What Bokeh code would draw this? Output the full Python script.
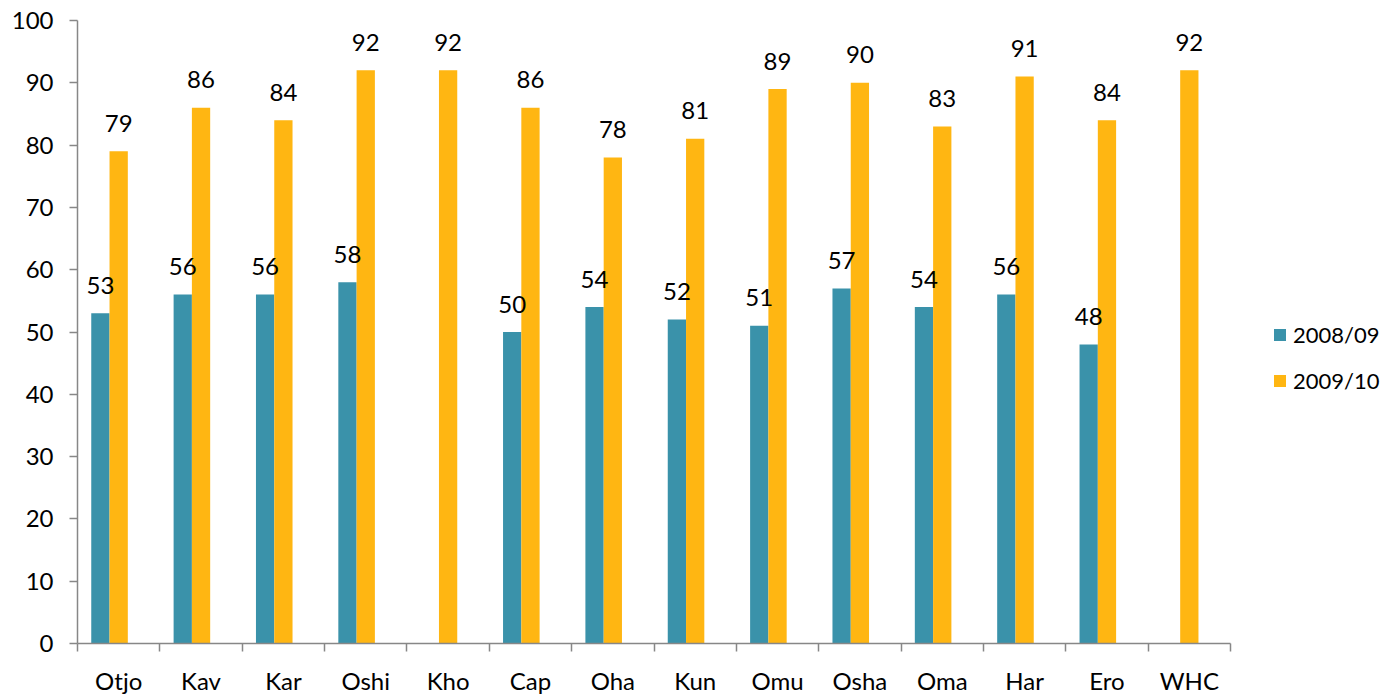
import numpy as np
from bokeh.plotting import figure
from bokeh.models import ColumnDataSource, FixedTicker, Legend, LegendItem, Range1d
from bokeh.core.properties import value
from bokeh.embed import file_html
from bokeh.resources import INLINE

categories = ["Otjo", "Kav", "Kar", "Oshi", "Kho", "Cap", "Oha", "Kun", "Omu",
              "Osha", "Oma", "Har", "Ero", "WHC"]
series_names = ["2008/09", "2009/10"]
values_0809 = [53, 56, 56, 58, None, 50, 54, 52, 51, 57, 54, 56, 48, None]
values_0910 = [79, 86, 84, 92, 92, 86, 78, 81, 89, 90, 83, 91, 84, 92]
y_ticks = [0, 10, 20, 30, 40, 50, 60, 70, 80, 90, 100]

TEAL = "#3A92AA"
ORANGE = "#FFB612"
FONT = "Lato"
FS = "24px"
BAR_W = 0.222

centers = np.arange(len(categories)) + 0.5

def make_source(vals, offset):
    xs, ys, labels = [], [], []
    for c, v in zip(centers, vals):
        if v is None:
            continue
        xs.append(c + offset)
        ys.append(v)
        labels.append(str(v))
    return ColumnDataSource(dict(x=xs, top=ys, label=labels))

src_a = make_source(values_0809, -BAR_W)
src_b = make_source(values_0910, 0.0)

p = figure(frame_width=1153, frame_height=623, min_border_left=77, min_border_top=20,
           min_border_right=155, min_border_bottom=50,
           x_range=Range1d(0, len(categories)), y_range=Range1d(0, 100),
           output_backend="svg", toolbar_location=None)
p.outline_line_color = None
p.grid.grid_line_color = None
p.background_fill_color = "white"
p.border_fill_color = "white"

r_a = p.vbar(x="x", top="top", width=BAR_W, bottom=0, source=src_a,
             fill_color=TEAL, line_color=None)
r_b = p.vbar(x="x", top="top", width=BAR_W, bottom=0, source=src_b,
             fill_color=ORANGE, line_color=None)

for src in (src_a, src_b):
    p.text(x="x", y="top", text="label", source=src, text_align="center",
           text_baseline="alphabetic", y_offset=-28, text_font=value(FONT),
           text_font_size=FS, text_color="black")

# axes
AX = "#878787"
xa = p.xaxis[0]
xa.ticker = FixedTicker(ticks=list(centers), minor_ticks=list(range(len(categories) + 1)))
xa.major_label_overrides = {float(c): cat for c, cat in zip(centers, categories)}
xa.major_tick_line_color = None
xa.major_tick_out = 0
xa.major_tick_in = 0
xa.minor_tick_line_color = AX
xa.minor_tick_line_width = 1.5
xa.minor_tick_out = 8
xa.minor_tick_in = 0
xa.axis_line_color = AX
xa.axis_line_width = 1.5
xa.major_label_standoff = 14
xa.major_label_text_font = FONT
xa.major_label_text_font_size = FS
xa.major_label_text_color = "black"

ya = p.yaxis[0]
ya.ticker = FixedTicker(ticks=y_ticks, minor_ticks=[])
ya.major_tick_line_color = AX
ya.major_tick_line_width = 1.5
ya.major_tick_out = 8
ya.major_tick_in = 0
ya.minor_tick_line_color = None
ya.axis_line_color = AX
ya.axis_line_width = 1.5
ya.major_label_standoff = 16
ya.major_label_text_font = FONT
ya.major_label_text_font_size = FS
ya.major_label_text_color = "black"

legend = Legend(items=[LegendItem(label=series_names[0], renderers=[r_a]),
                       LegendItem(label=series_names[1], renderers=[r_b])],
                location=(42, 248), orientation="vertical",
                border_line_color=None, background_fill_alpha=0,
                padding=0, margin=0, glyph_width=15, glyph_height=15,
                label_standoff=6, spacing=17, label_text_font=FONT,
                label_text_font_size="22px", label_text_color="black",
                label_height=29)
p.add_layout(legend, "right")

open("out.html", "w").write(file_html(p, INLINE))
